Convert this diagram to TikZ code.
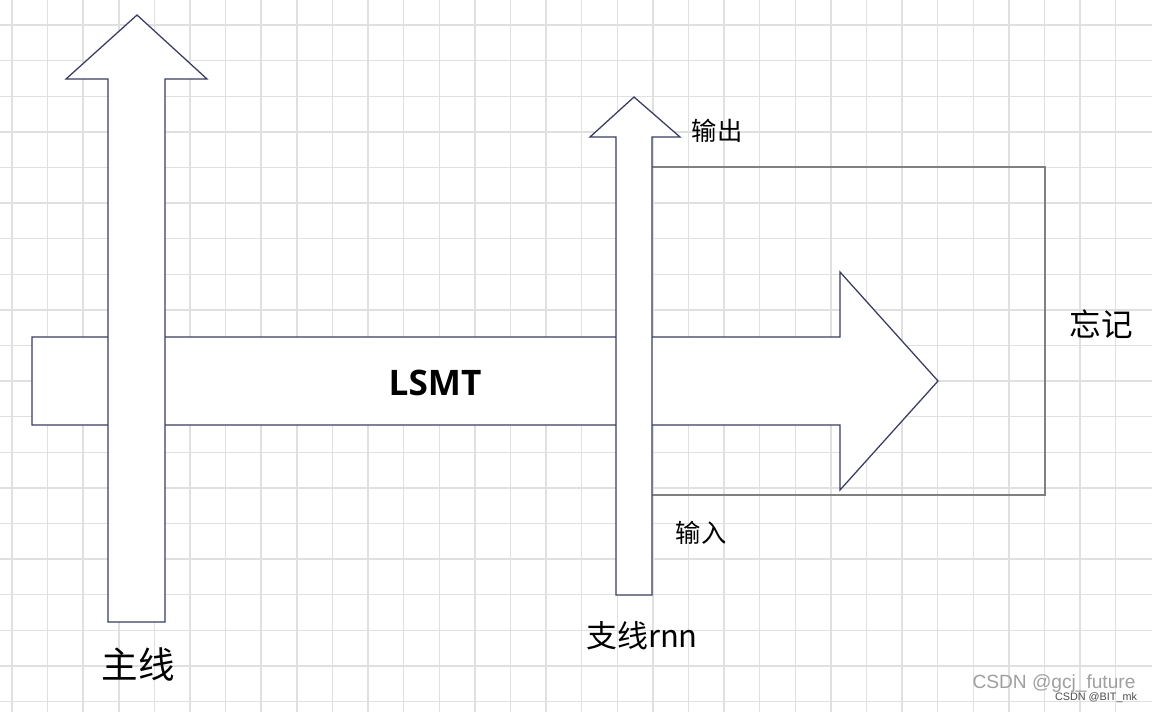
\documentclass[tikz,border=0pt]{standalone}
\usepackage{fontspec}
\newfontfamily\cjk{Noto Sans CJK SC}
\newfontfamily\sansbold{Open Sans}
\newfontfamily\markfont{Liberation Sans}
\definecolor{arrowline}{RGB}{58,60,98}
\definecolor{loopgray}{RGB}{128,128,128}
\definecolor{gridgray}{RGB}{224,224,224}

\begin{document}
\begin{tikzpicture}[x=0.025cm,y=-0.025cm,
    gridline/.style={gridgray,line width=1pt},
    bigarrow/.style={draw=arrowline,fill=white,line width=0.9pt,line join=miter},
    loopline/.style={loopgray,line width=1.2pt},
    note/.style={inner sep=0pt,font=\cjk\fontsize{18}{20}\selectfont}]
    % Canvas and grid
    \useasboundingbox (0,0) rectangle (1152,712);
    \fill[white] (0,0) rectangle (1152,712);
    \foreach \k in {0,...,31} \draw[gridline] ({12+35.6*\k},0) -- ({12+35.6*\k},712);
    \foreach \k in {0,...,19} \draw[gridline] (0,{25+35.6*\k}) -- (1152,{25+35.6*\k});

    % LSMT arrow
    \draw[bigarrow] (32,337) -- (840,337) -- (840,272) -- (938,381)
        -- (840,490) -- (840,425) -- (32,425) -- cycle;
    \node[font=\sansbold\bfseries\fontsize{25}{28}\selectfont] (lsmt) at (435,383) {LSMT};

    % Forget loop
    \coordinate (looptop) at (652,167);
    \coordinate (loopright) at (1045,495);
    \coordinate (loopbottom) at (652,495);
    \draw[loopline] (looptop) -| (loopright) -- (loopbottom);

    % Main line arrow
    \draw[bigarrow] (108,622) -- (108,79) -- (66,79) -- (137,15)
        -- (207,79) -- (165,79) -- (165,622) -- cycle;

    % Branch rnn arrow
    \draw[bigarrow] (616,595) -- (616,137) -- (590,137) -- (634,97)
        -- (680,137) -- (652,137) -- (652,595) -- cycle;

    % Labels
    \node[note] (out) at (717,131) {输出};
    \node[note] (in) at (701,533) {输入};
    \node[note,font=\cjk\fontsize{22.5}{24}\selectfont] (forget) at (1101,324) {忘记};
    \node[note,font=\cjk\fontsize{26}{28}\selectfont] (main) at (138,665) {主线};
    \node[note,font=\cjk\fontsize{22}{24}\selectfont] (branch) at (642,636) {支线rnn};

    % Watermark
    \node[text=gray!75,font=\markfont\fontsize{13.6}{15}\selectfont] (wmark) at (1054,684) {CSDN @gcj\_future};
    \node[text=black!70,font=\markfont\fontsize{7.7}{9}\selectfont] (wmarksub) at (1096,698) {CSDN @BIT\_mk};
\end{tikzpicture}
\end{document}
